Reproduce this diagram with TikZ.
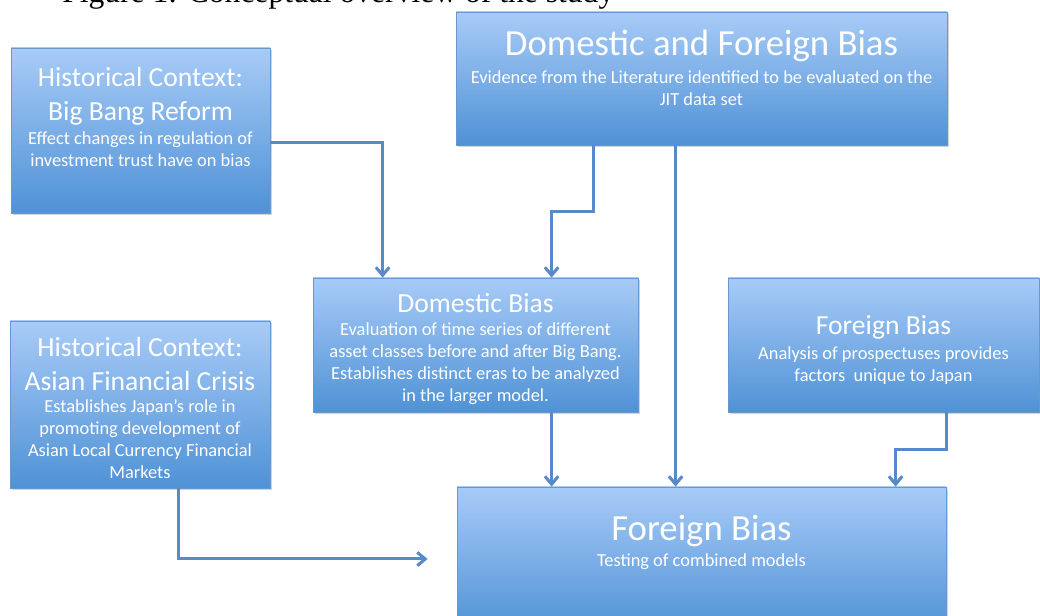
\documentclass[tikz,border=0pt]{standalone}
\usepackage{fontspec}
\setmainfont{Liberation Serif}
\newfontfamily\boxfont{Carlito}
\usetikzlibrary{positioning}
\usetikzlibrary{fit}
\usetikzlibrary{calc}
\usetikzlibrary{shadows}
\usetikzlibrary{arrows.meta}
\definecolor{paneltop}{RGB}{168,203,247}
\definecolor{panelbottom}{RGB}{79,146,214}
\definecolor{panelline}{RGB}{104,152,208}
\definecolor{flowline}{RGB}{86,138,200}
\tikzset{
  % shaded box
  panel/.style = {
    draw = panelline,
    line width = 0.6pt,
    top color = paneltop,
    bottom color = panelbottom,
    inner sep = 0,
    drop shadow = {shadow xshift=1.2pt, shadow yshift=-1.8pt, opacity=0.35}
  },
  boxtext/.style = {
    text = white,
    align = center,
    inner sep = 0
  },
  bigtitle/.style = {
    boxtext,
    font = \boxfont\fontsize{27.6}{32}\selectfont
  },
  title/.style = {
    boxtext,
    font = \boxfont\fontsize{20.7}{25.5}\selectfont
  },
  body/.style = {
    boxtext,
    font = \boxfont\fontsize{13.8}{16.5}\selectfont
  },
  caption/.style = {
    inner sep = 0,
    font = \fontsize{23.7}{28}\selectfont
  },
  % connector
  flow/.style = {
    draw = flowline,
    line width = 2.25pt,
    -{Straight Barb[length=6pt,width=10pt]}
  }
}
\begin{document}
\begin{tikzpicture}[x=0.75pt, y=-0.75pt]
    \useasboundingbox (0,0) rectangle (1040,616);
    \clip (0,0) rectangle (1040,616);

    \node[caption, anchor=base west] (cap) at (62,3) {Figure 1: Conceptual overview of the study};

    % boxes
    \node[panel, fit={(11,48) (270,213)}] (bigbang) {};
    \node[panel, fit={(456,12) (947,145)}] (both) {};
    \node[panel, fit={(313,278) (638,412)}] (dom) {};
    \node[panel, fit={(728,278) (1039,412)}] (foreign) {};
    \node[panel, fit={(10,321) (270,488)}] (asia) {};
    \node[panel, fit={(457,487) (946,631)}] (final) {};

    % texts
    \node[title] (bigbangtitle) at (140.5,96.5) {Historical Context:\\Big Bang Reform};
    \node[body] (bigbangbody) at (140.5,149.5) {Effect changes in regulation of\\investment trust have on bias};
    \node[bigtitle] (bothtitle) at (701.5,46) {Domestic and Foreign Bias};
    \node[body] (bothbody) at (701.5,88) {Evidence from the Literature identified to be evaluated on the\\JIT data set};
    \node[title] (domtitle) at (475.5,303) {Domestic Bias};
    \node[body] (dombody) at (475.5,364) {Evaluation of time series of different\\asset classes before and after Big Bang.\\Establishes distinct eras to be analyzed\\in the larger model.};
    \node[title] (foreigntitle) at (883.5,327) {Foreign Bias};
    \node[body] (foreignbody) at (883.5,365.5) {Analysis of prospectuses provides\\factors\ \ unique to Japan};
    \node[title] (asiatitle) at (140,364.5) {Historical Context:\\Asian Financial Crisis};
    \node[body] (asiabody) at (140,439.5) {Establishes Japan’s role in\\promoting development of\\Asian Local Currency Financial\\Markets};
    \node[bigtitle] (finaltitle) at (701.5,531) {Foreign Bias};
    \node[body] (finalbody) at (701.5,562) {Testing of combined models};

    % connectors
    \draw[flow] ($(bigbang.east)+(0,12.5)$) -| ($(dom.north west)+(70,0)$);
    \draw[flow] ($(both.south west)+(138,0)$) -- ++(0,66) -| ($(dom.north west)+(239,0)$);
    \draw[flow] ($(both.south west)+(220,0)$) -- ($(final.north west)+(219,0)$);
    \draw[flow] ($(dom.south west)+(239,0)$) -- ($(final.north west)+(95,0)$);
    \draw[flow] ($(foreign.south east)+(-93,0)$) -- ++(0,37) -| ($(final.north west)+(439,0)$);
    \draw[flow] ($(asia.south west)+(169,0)$) |- ($(final.west)+(-29,0)$);
  \end{tikzpicture}
\end{document}
